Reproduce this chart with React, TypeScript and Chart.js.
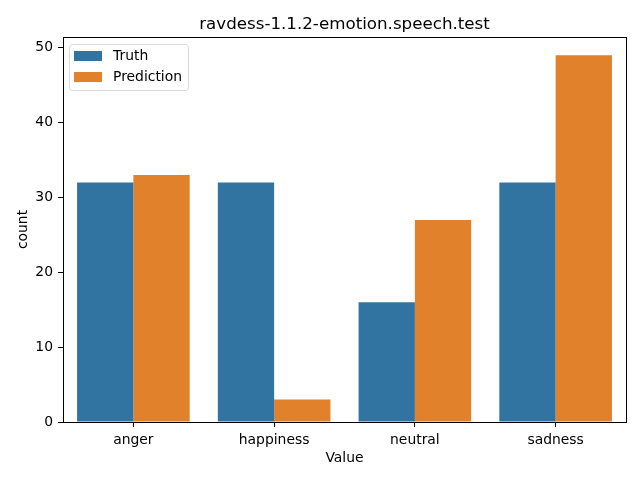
import React, { useEffect, useRef } from "react";
import { Chart, registerables } from "chart.js";

Chart.register(...registerables);

const TITLE = "ravdess-1.1.2-emotion.speech.test";
const CATEGORIES = ["anger", "happiness", "neutral", "sadness"];
const TRUTH = [32, 32, 16, 32];
const PREDICTION = [33, 3, 27, 49];
const Y_TICKS = [0, 10, 20, 30, 40, 50];
const SERIES_NAMES = ["Truth", "Prediction"];
const COLORS = ["#3274a1", "#e1812c"];
const FONT = "'DejaVu Sans', sans-serif";

const decorPlugin = {
  id: "decor",
  afterDraw(chart: any) {
    const { ctx, chartArea } = chart;
    const { left, right, top, bottom } = chartArea;
    ctx.save();
    // spines
    ctx.strokeStyle = "#000";
    ctx.lineWidth = 1;
    ctx.strokeRect(Math.round(left) + 0.5, Math.round(top) + 0.5, Math.round(right - left), Math.round(bottom - top));
    // title
    ctx.fillStyle = "#000";
    ctx.font = `16.7px ${FONT}`;
    ctx.textAlign = "center";
    ctx.textBaseline = "alphabetic";
    ctx.fillText(TITLE, (left + right) / 2, 29);
    // axis labels
    ctx.font = `13.9px ${FONT}`;
    ctx.fillText("Value", (left + right) / 2, 462);
    ctx.save();
    ctx.translate(27, (top + bottom) / 2);
    ctx.rotate(-Math.PI / 2);
    ctx.fillText("count", 0, 0);
    ctx.restore();
    // legend
    const lx = left + 6, ly = top + 7, lw = 119, lh = 46;
    ctx.beginPath();
    ctx.roundRect(lx + 0.5, ly + 0.5, lw, lh, 3);
    ctx.fillStyle = "rgba(255,255,255,0.8)";
    ctx.fill();
    ctx.strokeStyle = "#d9d9d9";
    ctx.lineWidth = 1;
    ctx.stroke();
    SERIES_NAMES.forEach((name, i) => {
      const py = ly + 7 + i * 21;
      ctx.fillStyle = COLORS[i];
      ctx.fillRect(lx + 5, py, 28, 10);
      ctx.fillStyle = "#000";
      ctx.font = `13.9px ${FONT}`;
      ctx.textAlign = "left";
      ctx.textBaseline = "middle";
      ctx.fillText(name, lx + 44, py + 5.5);
    });
    ctx.restore();
  },
};

export default function App() {
  const ref = useRef<HTMLCanvasElement>(null);
  useEffect(() => {
    if (!ref.current) return;
    const chart = new Chart(ref.current, {
      type: "bar",
      data: {
        labels: CATEGORIES,
        datasets: [
          { label: SERIES_NAMES[0], data: TRUTH, backgroundColor: COLORS[0] },
          { label: SERIES_NAMES[1], data: PREDICTION, backgroundColor: COLORS[1] },
        ],
      },
      options: {
        animation: false,
        responsive: false,
        maintainAspectRatio: false,
        devicePixelRatio: 1,
        layout: { padding: { top: 37, right: 14, left: 0, bottom: 0 } },
        datasets: { bar: { categoryPercentage: 0.8, barPercentage: 1.0 } },
        plugins: { legend: { display: false }, title: { display: false }, tooltip: { enabled: false } },
        scales: {
          x: {
            grid: { display: true, drawOnChartArea: false, offset: false, tickLength: 5, tickColor: "#000" },
            border: { display: false },
            ticks: { color: "#000", padding: 5, font: { family: FONT, size: 13.9 } },
            afterFit: (s: any) => { s.height = 58; },
          },
          y: {
            min: 0,
            max: 51.45,
            grid: { display: true, drawOnChartArea: false, tickLength: 5, tickColor: "#000" },
            border: { display: false },
            ticks: { color: "#000", padding: 5, font: { family: FONT, size: 13.9 } },
            afterBuildTicks: (s: any) => { s.ticks = Y_TICKS.map((v) => ({ value: v })); },
            afterFit: (s: any) => { s.width = 63; },
          },
        },
      },
      plugins: [decorPlugin],
    });
    return () => chart.destroy();
  }, []);
  return (
    <div style={{ position: "fixed", left: 0, top: 0, width: 640, height: 480, background: "#fff" }}>
      <canvas ref={ref} width={640} height={480} style={{ width: 640, height: 480 }} />
    </div>
  );
}
